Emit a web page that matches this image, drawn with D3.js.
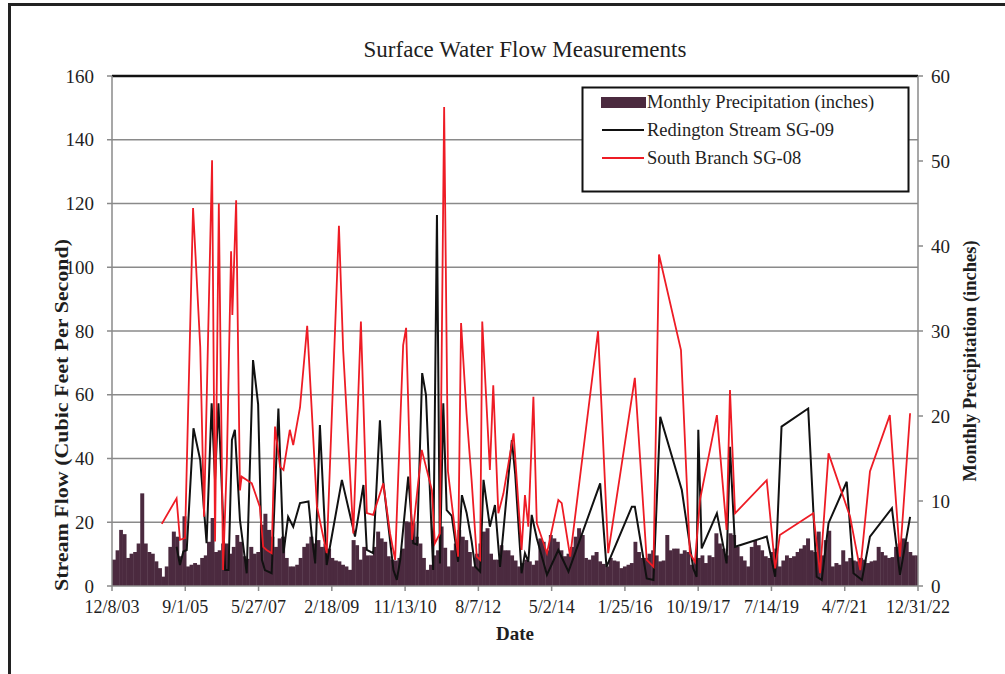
<!DOCTYPE html>
<html>
<head>
<meta charset="utf-8">
<script src="https://cdn.jsdelivr.net/npm/d3@7"></script>
<style>
  body { margin: 0; background: #fff; }
  svg { display: block; }
</style>
</head>
<body>
<div id="chart"></div>
<script>
// ---- data ----
const xTickLabels = ["12/8/03", "9/1/05", "5/27/07", "2/18/09", "11/13/10", "8/7/12",
                     "5/2/14", "1/25/16", "10/19/17", "7/14/19", "4/7/21", "12/31/22"];
const flowTicks = [0, 20, 40, 60, 80, 100, 120, 140, 160];
const precipTicks = [0, 10, 20, 30, 40, 50, 60];

// monthly precipitation (inches), Dec 2003 .. Dec 2022
const precip = [
  3.1,
  4.2, 6.6, 6.1, 3.3, 3.8, 4.0, 5.0, 10.9, 5.0, 4.0, 3.8, 2.9,
  2.1, 1.1, 2.3, 4.6, 6.4, 5.8, 3.5, 8.2, 2.3, 2.5, 2.7, 2.5,
  3.3, 3.6, 5.2, 8.0, 4.0, 4.2, 5.0, 5.0, 3.8, 4.6, 6.0, 5.2,
  3.5, 3.2, 4.6, 3.8, 4.0, 7.2, 8.5, 6.6, 5.8, 4.6, 5.6, 5.8,
  3.3, 2.3, 2.3, 2.5, 3.3, 4.6, 5.0, 5.8, 5.0, 5.4, 4.6, 5.0,
  4.4, 3.3, 3.0, 2.9, 2.5, 2.3, 1.9, 5.4, 4.8, 3.1, 4.6, 3.6,
  3.6, 4.6, 6.4, 5.6, 5.2, 3.5, 3.1, 3.0, 3.3, 4.4, 7.6, 7.5,
  7.4, 5.8, 5.0, 3.3, 1.9, 2.5, 3.6, 4.2, 7.0, 4.5, 2.3, 4.2,
  5.0, 6.6, 5.8, 5.4, 4.0, 2.3, 3.8, 5.0, 6.4, 6.8, 3.8, 3.1,
  3.1, 4.8, 4.2, 4.2, 3.6, 3.0, 2.3, 2.7, 3.1, 2.9, 2.5, 3.0,
  5.6, 5.2, 4.2, 6.0, 5.6, 5.2, 4.2, 3.5, 3.8, 4.6, 5.8, 6.8,
  6.0, 3.3, 3.1, 3.6, 4.0, 2.9, 2.6, 2.3, 3.3, 3.0, 2.9, 2.1,
  2.3, 2.5, 2.7, 5.2, 4.0, 3.3, 3.3, 3.8, 4.2, 3.6, 2.9, 3.0,
  6.0, 4.2, 4.4, 4.4, 3.8, 4.2, 4.0, 2.5, 3.1, 3.3, 3.6, 2.7,
  3.6, 3.4, 6.2, 5.0, 4.4, 3.6, 6.2, 6.0, 4.6, 3.5, 3.0, 2.3,
  4.6, 5.4, 4.8, 4.2, 3.5, 3.3, 4.0, 4.4, 2.3, 3.0, 3.6, 3.3,
  3.5, 4.0, 4.4, 4.8, 5.6, 4.2, 4.0, 6.4, 3.6, 5.4, 6.5, 2.3,
  2.7, 2.5, 4.2, 2.9, 3.3, 3.0, 2.9, 3.3, 3.1, 2.7, 2.9, 3.0,
  4.6, 4.0, 3.6, 3.3, 3.4, 4.6, 5.0, 5.6, 5.2, 4.0, 3.6, 3.6
];

// [decimal year, cfs]
const redington = [
  [2005.46, 12.3], [2005.54, 6.6], [2005.62, 10.8], [2005.70, 11.3], [2005.86, 49.5],
  [2006.02, 39.5], [2006.17, 13.4], [2006.29, 57.3], [2006.37, 33.3], [2006.45, 57.3],
  [2006.61, 5], [2006.69, 5], [2006.77, 45.8], [2006.84, 49], [2006.96, 20.7],
  [2007.12, 4], [2007.27, 70.9], [2007.39, 57], [2007.48, 8.2], [2007.55, 5],
  [2007.71, 4], [2007.87, 55.7], [2007.99, 10.3], [2008.10, 21.7], [2008.22, 18.6],
  [2008.38, 26], [2008.58, 26.5], [2008.66, 15.5], [2008.74, 7.1], [2008.85, 50.5],
  [2009.01, 6.6], [2009.37, 33.3], [2009.68, 15.5], [2009.88, 31.7], [2009.96, 11.3],
  [2010.11, 10.3], [2010.27, 52], [2010.35, 32.7], [2010.59, 5], [2010.67, 1.9],
  [2010.75, 8.2], [2010.94, 34.3], [2011.06, 13.4], [2011.15, 13], [2011.27, 66.8],
  [2011.36, 60], [2011.53, 5], [2011.62, 116.4], [2011.69, 7.1], [2011.77, 57.3],
  [2011.85, 23.8], [2011.97, 22], [2012.12, 7.6], [2012.21, 28.5], [2012.32, 23],
  [2012.44, 14], [2012.52, 6.1], [2012.64, 4.5], [2012.72, 33.3], [2012.87, 18.6],
  [2012.99, 25.4], [2013.11, 6], [2013.39, 45.8], [2013.47, 35], [2013.62, 4],
  [2013.70, 10.3], [2013.78, 7.6], [2013.86, 22.3], [2013.98, 15], [2014.22, 3.5],
  [2014.49, 11.3], [2014.73, 4.5], [2015.48, 32.2], [2015.63, 6], [2016.23, 24.9],
  [2016.30, 24.9], [2016.58, 2.4], [2016.74, 1.9], [2016.90, 53.1], [2017.41, 30.1],
  [2017.68, 5.5], [2017.76, 2.9], [2017.80, 49], [2017.88, 11.8], [2018.24, 22.8],
  [2018.47, 7.1], [2018.55, 43.7], [2018.67, 12.3], [2019.42, 15.5], [2019.62, 2.9],
  [2019.77, 50], [2020.40, 55.7], [2020.60, 2.9], [2020.72, 1.9], [2020.88, 19.7],
  [2021.31, 32.7], [2021.47, 4], [2021.67, 1.9], [2021.86, 15.5], [2022.38, 24.4],
  [2022.57, 3.5], [2022.81, 21.7]
];

const southBranch = [
  [2005.11, 19.5], [2005.46, 27.5], [2005.54, 14.5], [2005.66, 15], [2005.85, 118.6],
  [2006.02, 75], [2006.11, 21.7], [2006.30, 133.6], [2006.37, 14], [2006.46, 120],
  [2006.56, 5], [2006.65, 39], [2006.75, 105], [2006.78, 85], [2006.87, 121],
  [2006.96, 30], [2007.00, 34.3], [2007.24, 32.2], [2007.43, 24.9], [2007.51, 12.3],
  [2007.59, 11.3], [2007.71, 10.3], [2007.79, 50], [2007.91, 37.4], [2007.99, 36.4],
  [2008.14, 49], [2008.22, 44.2], [2008.38, 56], [2008.55, 81.6], [2008.78, 24.9],
  [2009.01, 10.3], [2009.30, 113], [2009.40, 74], [2009.64, 16.5], [2009.82, 83],
  [2009.96, 22.9], [2010.11, 22.3], [2010.35, 32.2], [2010.51, 16.5], [2010.63, 8.2],
  [2010.82, 75.6], [2010.89, 81], [2011.03, 14.5], [2011.26, 42.7], [2011.50, 30.1],
  [2011.57, 13.4], [2011.69, 16.5], [2011.79, 150.3], [2011.88, 36], [2012.12, 9.2],
  [2012.19, 82.5], [2012.32, 54], [2012.44, 33], [2012.56, 9.2], [2012.64, 8.2],
  [2012.69, 83], [2012.87, 36.4], [2012.95, 63], [2013.07, 22.8], [2013.19, 29],
  [2013.43, 47.9], [2013.62, 11.3], [2013.70, 28.5], [2013.78, 18.6], [2013.90, 59.4],
  [2013.98, 19.7], [2014.22, 10.3], [2014.49, 27], [2014.57, 26], [2014.77, 9.2],
  [2015.43, 80], [2015.67, 10.3], [2016.30, 65.3], [2016.58, 8.2], [2016.74, 6],
  [2016.87, 104], [2017.39, 74], [2017.60, 10.3], [2017.72, 7.6], [2017.84, 27],
  [2018.24, 53.6], [2018.47, 17.6], [2018.55, 61.5], [2018.67, 22.8], [2019.42, 33.2],
  [2019.62, 5.5], [2019.73, 16], [2020.52, 22.8], [2020.68, 4], [2020.88, 41.6],
  [2021.39, 21.7], [2021.63, 5], [2021.86, 35.9], [2022.33, 53.6], [2022.57, 9.2],
  [2022.81, 54.2]
];

// ---- layout ----
const W = 1005, H = 674;
const m = { left: 112, right: 87, top: 76, bottom: 88 };
const serif = "'Liberation Serif', 'Times New Roman', serif";
const ink = "#1e1e1e";

const parse = d3.timeParse("%m/%d/%y");
const tickDates = xTickLabels.map(parse);
// decimal year -> Date
const decYear = v => {
  const yr = Math.floor(v);
  const a = new Date(yr, 0, 1), b = new Date(yr + 1, 0, 1);
  return new Date(+a + (v - yr) * (b - a));
};

const svg = d3.select("#chart").append("svg")
  .attr("width", W).attr("height", H)
  .style("font-family", serif);

// outer frame (only top and left edges fall inside the picture)
svg.append("rect")
  .attr("x", 9.5).attr("y", 4.5).attr("width", 1100).attr("height", 800)
  .attr("fill", "none").attr("stroke", "#222").attr("stroke-width", 3);

const x = d3.scaleTime()
  .domain([tickDates[0], tickDates[tickDates.length - 1]])
  .range([m.left, W - m.right]);
const y = d3.scaleLinear().domain([0, 160]).range([H - m.bottom, m.top]);
const y2 = d3.scaleLinear().domain([0, 60]).range([H - m.bottom, m.top]);

// gridlines — the top one is drawn dark like the plot border
svg.append("g").selectAll("line")
  .data(flowTicks.filter(d => d > 0))
  .join("line")
  .attr("x1", m.left).attr("x2", W - m.right)
  .attr("y1", d => y(d)).attr("y2", d => y(d))
  .attr("stroke", d => d === 160 ? "#111" : "#8a8a8a")
  .attr("stroke-width", d => d === 160 ? 2.5 : 1.5);

// precipitation bars, one per month from the first tick date
const barStart = tickDates[0];
svg.append("clipPath").attr("id", "plotclip")
  .append("rect").attr("x", m.left).attr("y", m.top)
  .attr("width", W - m.left - m.right).attr("height", H - m.top - m.bottom);

svg.append("g").attr("clip-path", "url(#plotclip)")
  .selectAll("rect")
  .data(precip)
  .join("rect")
  .attr("x", (d, i) => x(d3.timeMonth.offset(barStart, i)))
  .attr("width", (d, i) => x(d3.timeMonth.offset(barStart, i + 1)) - x(d3.timeMonth.offset(barStart, i)) + 0.4)
  .attr("y", d => y2(d))
  .attr("height", d => y2(0) - y2(d))
  .attr("fill", "#4b2a3f");

// axis lines
const axisCol = "#8a8a8a";
const ax = svg.append("g").attr("stroke", axisCol).attr("stroke-width", 1.5);
ax.append("line").attr("x1", m.left).attr("x2", m.left).attr("y1", m.top).attr("y2", H - m.bottom);
ax.append("line").attr("x1", W - m.right).attr("x2", W - m.right).attr("y1", m.top).attr("y2", H - m.bottom);
ax.append("line").attr("x1", m.left).attr("x2", W - m.right).attr("y1", H - m.bottom).attr("y2", H - m.bottom);

// left ticks + labels
flowTicks.forEach(t => {
  ax.append("line").attr("x1", m.left - 5).attr("x2", m.left).attr("y1", y(t)).attr("y2", y(t));
  svg.append("text").attr("x", m.left - 18).attr("y", y(t)).attr("dy", "0.35em")
    .attr("text-anchor", "end").attr("font-size", 19).attr("fill", ink).text(t);
});
// right ticks + labels
precipTicks.forEach(t => {
  ax.append("line").attr("x1", W - m.right).attr("x2", W - m.right + 5).attr("y1", y2(t)).attr("y2", y2(t));
  svg.append("text").attr("x", W - m.right + 13).attr("y", y2(t)).attr("dy", "0.35em")
    .attr("text-anchor", "start").attr("font-size", 19).attr("fill", ink).text(t);
});
// bottom ticks + labels
tickDates.forEach((t, i) => {
  ax.append("line").attr("x1", x(t)).attr("x2", x(t)).attr("y1", H - m.bottom).attr("y2", H - m.bottom + 5);
  svg.append("text").attr("x", x(t)).attr("y", H - m.bottom + 21).attr("dy", "0.35em")
    .attr("text-anchor", "middle").attr("font-size", 18).attr("fill", ink).text(xTickLabels[i]);
});

// flow lines
const line = d3.line().x(d => x(decYear(d[0]))).y(d => y(d[1]));
svg.append("path").datum(redington)
  .attr("d", line).attr("fill", "none").attr("stroke", "#111").attr("stroke-width", 2);
svg.append("path").datum(southBranch)
  .attr("d", line).attr("fill", "none").attr("stroke", "#ee1c25").attr("stroke-width", 1.8);

// titles
svg.append("text").attr("x", 525).attr("y", 49).attr("dy", "0.35em")
  .attr("text-anchor", "middle").attr("font-size", 23).attr("fill", ink)
  .text("Surface Water Flow Measurements");
svg.append("text").attr("x", 515).attr("y", 633).attr("dy", "0.35em")
  .attr("text-anchor", "middle").attr("font-size", 19).attr("font-weight", "bold").attr("fill", ink)
  .text("Date");
svg.append("text")
  .attr("transform", "translate(61,415) rotate(-90)").attr("dy", "0.35em")
  .attr("text-anchor", "middle").attr("font-size", 19).attr("font-weight", "bold").attr("fill", ink)
  .attr("textLength", 352).attr("lengthAdjust", "spacingAndGlyphs")
  .text("Stream Flow (Cubic Feet Per Second)");
svg.append("text")
  .attr("transform", "translate(970,361) rotate(-90)").attr("dy", "0.35em")
  .attr("text-anchor", "middle").attr("font-size", 18.5).attr("font-weight", "bold").attr("fill", ink)
  .text("Monthly Precipitation (inches)");

// legend
const lg = svg.append("g");
lg.append("rect").attr("x", 582.5).attr("y", 87.5).attr("width", 326).attr("height", 104)
  .attr("fill", "#fff").attr("stroke", "#111").attr("stroke-width", 2);
const legendItems = [
  { label: "Monthly Precipitation (inches)", type: "bar", color: "#4b2a3f" },
  { label: "Redington Stream SG-09", type: "line", color: "#111" },
  { label: "South Branch SG-08", type: "line", color: "#ee1c25" }
];
legendItems.forEach((d, i) => {
  const cy = 102 + i * 28;
  if (d.type === "bar") {
    lg.append("rect").attr("x", 601).attr("y", cy - 5).attr("width", 45).attr("height", 11).attr("fill", d.color);
  } else {
    lg.append("line").attr("x1", 602).attr("x2", 644).attr("y1", cy).attr("y2", cy)
      .attr("stroke", d.color).attr("stroke-width", 2);
  }
  lg.append("text").attr("x", 647).attr("y", cy).attr("dy", "0.35em")
    .attr("font-size", 18.5).attr("fill", ink).text(d.label);
});
</script>
</body>
</html>
